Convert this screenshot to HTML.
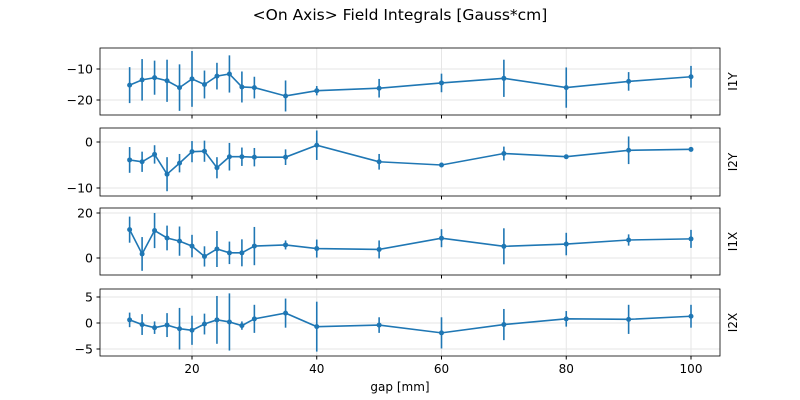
<!DOCTYPE html><html><head><style>body{margin:0;background:#fff}svg{display:block}text{font-family:"DejaVu Sans","Liberation Sans",sans-serif;fill:#000}</style></head><body>
<svg id="s" width="800" height="400" xmlns="http://www.w3.org/2000/svg">
<text x="400" y="20" font-size="15.5" text-anchor="middle">&lt;On Axis&gt; Field Integrals [Gauss*cm]</text>
<text x="400" y="391" font-size="12" text-anchor="middle">gap [mm]</text>
</svg>
<script>
const X=[10,12,14,16,18,20,22,24,26,28,30,35,40,50,60,70,80,90,100];
const P=[
{t:48,b:115,y0:-10,p0:69,y1:-20,p1:100,ticks:[-10,-20],lab:"I1Y",
v:[-15.2,-13.5,-12.8,-13.8,-16,-13.2,-15,-12.3,-11.6,-15.8,-16,-18.7,-17,-16.2,-14.5,-13,-16,-14,-12.5],
e:[5.8,6.7,5.5,6.8,7.5,9,4.5,4.3,6,5,3.5,5,1.5,3,3,6,6.5,3,3.5]},
{t:128,b:196,y0:0,p0:142,y1:-10,p1:188,ticks:[0,-10],lab:"I2Y",
v:[-3.9,-4.3,-2.7,-7,-4.6,-2.1,-2,-5.6,-3.2,-3.2,-3.3,-3.3,-0.7,-4.3,-5,-2.5,-3.2,-1.8,-1.6],
e:[2.8,2.2,2,3.7,2,2.3,2.3,2.3,3,2,2,1.7,3.2,1.7,0.5,1.5,0.3,3,0.5]},
{t:208,b:275,y0:20,p0:213,y1:0,p1:258,ticks:[20,0],lab:"I1X",
v:[12.6,1.8,12.2,8.9,7.5,5.3,0.7,4,2.3,2.3,5.3,5.8,4.2,3.8,8.8,5.2,6.2,8,8.5],
e:[5.8,7.5,7.8,5.5,6.5,5,4.5,8,5,6,8.5,2,4,4,4,8,5,2.5,4]},
{t:289,b:356,y0:5,p0:297,y1:-5,p1:349,ticks:[5,0,-5],lab:"I2X",
v:[0.6,-0.3,-0.9,-0.4,-1.1,-1.4,-0.2,0.6,0.2,-0.5,0.8,1.9,-0.7,-0.4,-1.9,-0.3,0.8,0.7,1.3],
e:[1.4,2,1.2,2.3,4,2.8,2,4.6,5.5,0.8,2.7,2.8,4.8,1.5,3,3,1.5,2.8,2.2]}];
const sx=x=>67.25+x*6.2375;let h="";const C="#1f77b4";
P.forEach((p,i)=>{const sy=y=>p.p0+(y-p.y0)*(p.p1-p.p0)/(p.y1-p.y0);
for(let g=20;g<=100;g+=20)h+=`<line x1="${sx(g)}" x2="${sx(g)}" y1="${p.t}" y2="${p.b}" stroke="#e6e6e6"/>`;
p.ticks.forEach(t=>{const y=sy(t);h+=`<line x1="100" x2="720" y1="${y}" y2="${y}" stroke="#e6e6e6"/><line x1="96.5" x2="100" y1="${y}" y2="${y}" stroke="#000"/><text x="93" y="${y+4.5}" font-size="12.5" text-anchor="end">${t<0?"\u2212"+(-t):t}</text>`;});
X.forEach((x,j)=>{h+=`<line x1="${sx(x)}" x2="${sx(x)}" y1="${sy(p.v[j]-p.e[j])}" y2="${sy(p.v[j]+p.e[j])}" stroke="${C}" stroke-width="1.6"/>`;});
h+=`<polyline fill="none" stroke="${C}" stroke-width="1.6" points="${X.map((x,j)=>sx(x)+","+sy(p.v[j])).join(" ")}"/>`;
X.forEach((x,j)=>{h+=`<circle cx="${sx(x)}" cy="${sy(p.v[j])}" r="2.5" fill="${C}"/>`;});
h+=`<rect x="100" y="${p.t}" width="620" height="${p.b-p.t}" fill="none" stroke="#000" stroke-width="0.8"/>`;
for(let g=20;g<=100;g+=20){h+=`<line x1="${sx(g)}" x2="${sx(g)}" y1="${p.b}" y2="${p.b+3.5}" stroke="#000"/>`;if(i==3)h+=`<text x="${sx(g)}" y="${p.b+17}" font-size="12" text-anchor="middle">${g}</text>`;}
const cy=(p.t+p.b)/2;h+=`<text transform="translate(737,${cy}) rotate(-90)" font-size="12" text-anchor="middle">${p.lab}</text>`;});
document.getElementById("s").insertAdjacentHTML("beforeend",h);
</script></body></html>
